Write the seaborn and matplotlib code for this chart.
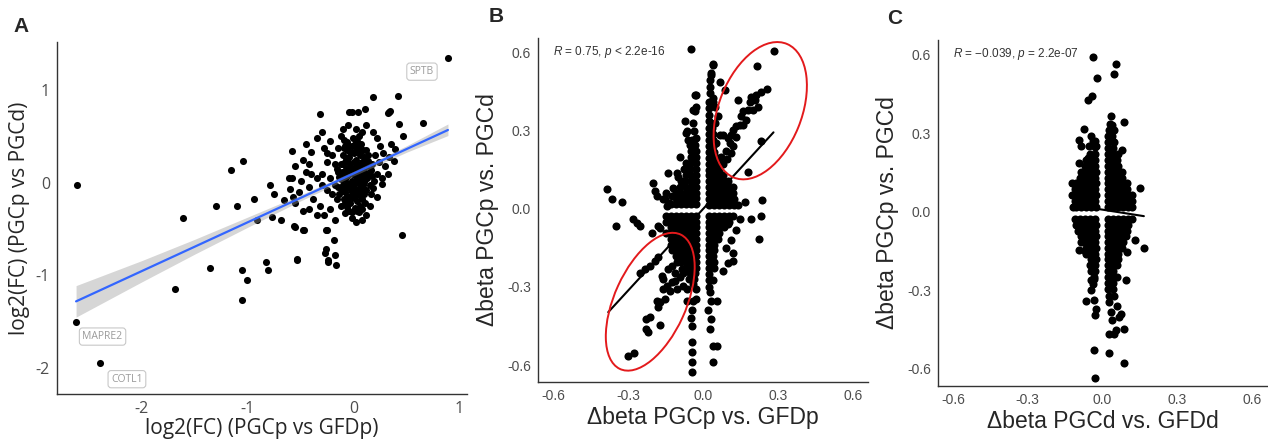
import matplotlib
matplotlib.use('Agg')
import pandas as pd
import matplotlib.pyplot as plt
import seaborn as sns
from matplotlib.patches import Ellipse

# ---------------- panel A : log2 fold changes ----------------
a_far = [(0.89, 1.35), (-2.61, -0.02), (-2.62, -1.50), (-2.39, -1.95), (-1.69, -1.15),
         (-1.61, -0.38), (-1.30, -0.25), (-1.16, 0.14), (-1.04, 0.23), (-1.10, -0.25),
         (-0.94, -0.18), (-0.91, -0.40), (-1.36, -0.92), (-1.05, -0.94), (-1.01, -1.05),
         (-1.05, -1.27), (-0.83, -0.86), (-0.81, -0.94), (-0.79, -0.02), (-0.75, -0.12),
         (-0.77, -0.37), (-0.69, -0.40), (-0.53, -0.82), (-0.56, -0.47), (-0.48, -0.51),
         (-0.58, 0.34), (-0.61, 0.05), (-0.60, -0.07), (-0.66, -0.19), (-0.26, -0.71),
         (-0.24, -0.83), (-0.18, -0.78), (-0.17, -0.89), (-0.19, -0.62), (-0.26, -0.51),
         (0.46, -0.56), (0.65, 0.65), (0.42, 0.94), (0.18, 0.93), (0.33, 0.76),
         (0.43, 0.64), (0.47, 0.51), (0.11, 0.80), (-0.04, 0.76), (0.04, 0.76),
         (0.27, -0.01), (0.38, 0.24), (0.39, 0.37), (-0.32, 0.74), (-0.47, -0.51),
         (-0.25, -0.51), (-0.27, -0.76), (-0.24, -0.85), (-0.53, -0.83), (-0.55, -0.48),
         (-0.57, -0.15), (0.17, 0.07), (0.32, 0.75), (0.34, 0.77), (-0.02, 0.76)]
a_halo = [(-0.45, 0.42), (-0.40, 0.33), (-0.35, 0.48), (-0.30, 0.55), (-0.28, 0.38),
          (-0.22, 0.45), (-0.20, 0.30), (-0.25, 0.22), (-0.18, 0.20), (-0.15, 0.38),
          (-0.12, 0.50), (-0.10, 0.58), (-0.05, 0.62), (0.02, 0.58), (0.08, 0.55),
          (0.12, 0.62), (0.18, 0.55), (0.22, 0.48), (0.25, 0.40), (0.28, 0.32),
          (0.20, 0.30), (0.24, 0.22), (0.30, 0.18), (0.33, 0.28), (0.35, 0.42),
          (0.22, 0.10), (0.18, -0.06), (0.22, -0.15), (0.15, -0.25), (0.12, -0.35),
          (0.08, -0.40), (0.02, -0.42), (-0.02, -0.38), (-0.08, -0.33), (-0.12, -0.25),
          (-0.16, -0.18), (-0.20, -0.12), (-0.25, -0.08), (-0.30, -0.02), (-0.35, 0.05),
          (-0.40, 0.10), (-0.45, 0.12), (-0.50, 0.02), (-0.42, -0.05), (-0.38, -0.18),
          (-0.32, -0.25), (-0.28, -0.35), (-0.22, -0.28), (-0.18, -0.40), (-0.35, -0.35),
          (-0.42, -0.28), (-0.48, -0.30), (-0.52, -0.10), (-0.55, -0.22), (-0.58, 0.05),
          (-0.55, 0.18), (-0.48, 0.25), (-0.42, 0.20), (-0.30, 0.10), (-0.22, 0.05),
          (-0.18, -0.02), (0.27, 0.05), (0.32, 0.10), (0.12, 0.35), (-0.08, 0.40),
          (0.05, -0.32), (-0.15, 0.12), (-0.25, 0.32)]
a_core = [(-0.10, 0.30), (-0.08, 0.22), (-0.06, 0.35), (-0.04, 0.28), (-0.02, 0.40),
          (0.00, 0.32), (0.02, 0.25), (0.04, 0.38), (0.06, 0.30), (0.08, 0.22),
          (0.10, 0.28), (0.12, 0.18), (-0.11, 0.12), (-0.09, 0.05), (-0.07, 0.15),
          (-0.05, 0.08), (-0.03, 0.18), (-0.01, 0.10), (0.01, 0.16), (0.03, 0.06),
          (0.05, 0.14), (0.07, 0.09), (0.09, 0.16), (0.11, 0.04), (0.13, 0.10),
          (-0.10, -0.02), (-0.08, -0.10), (-0.06, 0.00), (-0.04, -0.06), (-0.02, 0.02),
          (0.00, -0.04), (0.02, 0.03), (0.04, -0.08), (0.06, -0.01), (0.08, -0.06),
          (0.10, 0.01), (-0.09, -0.18), (-0.06, -0.14), (-0.03, -0.22), (0.00, -0.16),
          (0.03, -0.20), (0.05, -0.13), (0.08, -0.18), (-0.04, -0.30), (0.01, -0.27),
          (0.06, -0.25), (-0.12, 0.20), (-0.14, 0.06), (-0.15, -0.05), (0.14, 0.24),
          (0.16, 0.14), (0.15, -0.02), (-0.01, 0.48), (0.03, 0.45), (0.07, 0.42),
          (-0.06, 0.44), (-0.05, 0.22), (0.03, 0.20), (-0.02, -0.10), (0.04, 0.10),
          (-0.07, 0.06), (0.07, 0.03), (0.01, -0.08), (-0.04, 0.13), (0.09, 0.10),
          (0.02, 0.35), (-0.09, 0.38), (-0.07, 0.27), (-0.03, 0.33), (0.01, 0.42),
          (0.05, 0.34), (0.09, 0.35), (0.11, 0.22), (-0.12, 0.04), (-0.10, 0.20),
          (-0.06, 0.10), (-0.02, 0.14), (0.02, 0.08), (0.06, 0.18), (0.10, 0.13),
          (0.13, 0.05), (-0.11, -0.08), (-0.07, -0.05), (-0.03, -0.02), (0.01, 0.00),
          (0.05, 0.04), (0.09, -0.02), (0.12, -0.08), (-0.08, -0.22), (-0.05, -0.18),
          (-0.01, -0.13), (0.03, -0.12), (0.07, -0.10), (0.10, -0.12), (-0.06, -0.26),
          (-0.02, -0.32), (0.03, -0.30), (0.08, -0.28), (0.00, 0.22), (-0.04, 0.40),
          (0.05, 0.50), (-0.09, 0.46), (0.14, 0.30), (0.17, 0.20), (0.19, 0.02),
          (-0.16, 0.15), (-0.14, -0.12), (0.16, -0.12), (0.11, -0.22)]
a_fit_x = [-2.62, 0.89]
a_fit_y = [-1.28, 0.57]
a_band_x = [-2.62, -2.0, -1.5, -1.0, -0.5, 0.0, 0.5, 0.89]
a_band_lo = [-1.45, -1.07, -0.77, -0.48, -0.195, 0.075, 0.33, 0.51]
a_band_hi = [-1.11, -0.84, -0.61, -0.37, -0.13, 0.125, 0.40, 0.635]
a_genes = ['SPTB', 'MAPRE2', 'COTL1']
a_gene_pos = [(0.645, 1.20), (-2.37, -1.66), (-2.14, -2.12)]

# ---------------- panel B : delta beta, proximal ----------------
b_scatter = [(-0.049, 0.613), (0.040, 0.555), (0.033, 0.52), (0.027, 0.494), (0.067, 0.488),
             (0.087, 0.456), (0.027, 0.443), (0.04, 0.424), (0.047, 0.392), (0.06, 0.354),
             (0.047, 0.329), (0.067, 0.284), (0.053, 0.252), (-0.029, 0.437), (-0.029, 0.39),
             (-0.033, 0.373), (-0.067, 0.29), (-0.06, 0.265), (-0.053, 0.246), (-0.093, 0.20),
             (-0.033, 0.19), (-0.14, 0.138), (-0.106, 0.138), (-0.20, 0.10), (-0.193, 0.067),
             (-0.186, 0.048), (-0.16, 0.036), (-0.126, 0.048), (-0.153, 0.036), (-0.146, 0.01),
             (-0.386, 0.074), (-0.366, 0.036), (-0.326, 0.027), (-0.349, -0.066), (-0.282, -0.041),
             (-0.266, -0.054), (-0.253, -0.066), (-0.206, -0.092), (-0.18, -0.066), (-0.173, -0.073),
             (-0.073, 0.335), (-0.066, 0.297), (-0.046, 0.265), (-0.04, 0.233), (-0.033, 0.437),
             (-0.04, 0.379), (0.04, 0.551), (0.033, 0.513), (0.027, 0.468), (0.04, 0.411),
             (0.169, 0.025), (0.237, 0.033), (0.233, -0.028), (0.224, -0.117), (0.146, -0.041),
             (0.193, -0.041), (0.12, -0.2), (0.1, -0.06), (0.13, -0.08), (0.11, -0.12),
             (0.09, -0.15), (0.12, -0.17), (0.08, -0.24), (0.1, -0.21), (-0.12, 0.08),
             (-0.1, 0.12), (-0.15, 0.06), (-0.135, 0.02)]
b_circled = [(0.282, 0.605), (0.217, 0.548), (0.257, 0.459), (0.23, 0.446), (0.21, 0.437),
             (0.193, 0.428), (0.186, 0.411), (0.206, 0.418), (0.219, 0.392), (0.2, 0.379),
             (0.18, 0.379), (0.16, 0.373), (0.153, 0.354), (0.173, 0.341), (0.146, 0.322),
             (0.16, 0.322), (0.133, 0.316), (0.12, 0.303), (0.113, 0.284), (0.133, 0.277),
             (0.1, 0.271), (0.08, 0.284), (0.106, 0.252), (0.12, 0.239), (0.113, 0.214),
             (0.14, 0.418), (0.233, 0.258), (0.18, 0.14), (0.09, 0.22), (0.095, 0.19),
             (0.08, 0.17), (0.07, 0.2),
             (-0.299, -0.567), (-0.277, -0.554), (-0.229, -0.461), (-0.219, -0.474),
             (-0.229, -0.423), (-0.213, -0.417), (-0.173, -0.446), (-0.18, -0.378),
             (-0.173, -0.359), (-0.153, -0.347), (-0.186, -0.353), (-0.16, -0.308),
             (-0.146, -0.296), (-0.133, -0.315), (-0.126, -0.283), (-0.113, -0.277),
             (-0.093, -0.264), (-0.08, -0.245), (-0.066, -0.232), (-0.08, -0.296),
             (-0.066, -0.308), (-0.106, -0.308), (-0.253, -0.245), (-0.233, -0.232),
             (-0.213, -0.219), (-0.193, -0.2), (-0.18, -0.187), (-0.16, -0.27),
             (-0.166, -0.257), (-0.14, -0.232), (-0.126, -0.219), (-0.106, -0.206),
             (-0.093, -0.194), (-0.086, -0.232), (-0.113, -0.245)]
b_tails = [(-0.046, -0.449), (-0.046, -0.512), (-0.046, -0.55), (-0.046, -0.589), (-0.046, -0.627),
           (-0.04, -0.353), (-0.066, -0.353), (-0.046, -0.39), (-0.05, -0.42), (-0.027, -0.308),
           (-0.027, -0.346), (0.04, -0.525), (0.056, -0.525), (0.04, -0.589), (0.033, -0.353),
           (0.033, -0.423), (0.056, -0.353), (0.027, -0.32), (0.027, -0.46), (0.02, -0.39)]
# dense core, one row per y level: (y, [x, ...])
b_core_ul = [(0.018, [-0.03, -0.05, -0.07, -0.09, -0.11, -0.13]),
             (0.04, [-0.028, -0.048, -0.068, -0.088, -0.108]),
             (0.062, [-0.03, -0.05, -0.07, -0.09, -0.11]),
             (0.085, [-0.029, -0.049, -0.07, -0.092]),
             (0.108, [-0.03, -0.05, -0.072, -0.09]),
             (0.13, [-0.03, -0.05, -0.07]),
             (0.152, [-0.03, -0.052, -0.075]),
             (0.175, [-0.03, -0.05, -0.068]),
             (0.198, [-0.03, -0.05]),
             (0.22, [-0.03, -0.048]),
             (0.245, [-0.032]), (0.27, [-0.03]), (0.30, [-0.035]), (0.33, [-0.04])]
b_core_ur = [(0.015, [0.022, 0.042, 0.062, 0.082, 0.102, 0.122, 0.14]),
             (0.037, [0.024, 0.044, 0.064, 0.084, 0.104, 0.125]),
             (0.06, [0.022, 0.042, 0.062, 0.082, 0.102, 0.12]),
             (0.082, [0.023, 0.043, 0.063, 0.083, 0.1, 0.118]),
             (0.105, [0.022, 0.042, 0.062, 0.082, 0.1]),
             (0.128, [0.022, 0.042, 0.062, 0.08]),
             (0.15, [0.022, 0.042, 0.062]),
             (0.172, [0.022, 0.042, 0.06]),
             (0.195, [0.022, 0.042, 0.058]),
             (0.218, [0.022, 0.042]), (0.24, [0.022, 0.04]), (0.262, [0.022, 0.04]),
             (0.285, [0.022, 0.038]), (0.31, [0.022, 0.035]), (0.335, [0.022]),
             (0.36, [0.024]), (0.385, [0.022]), (0.41, [0.022])]
b_core_ll = [(-0.028, [-0.028, -0.048, -0.068, -0.088, -0.108, -0.128, -0.148]),
             (-0.05, [-0.028, -0.048, -0.068, -0.088, -0.108, -0.128, -0.15]),
             (-0.072, [-0.03, -0.05, -0.07, -0.09, -0.11, -0.13]),
             (-0.094, [-0.028, -0.048, -0.068, -0.088, -0.108, -0.128, -0.15]),
             (-0.116, [-0.03, -0.05, -0.07, -0.09, -0.11, -0.13]),
             (-0.138, [-0.028, -0.048, -0.068, -0.088, -0.108, -0.13]),
             (-0.16, [-0.03, -0.05, -0.07, -0.09, -0.11, -0.125]),
             (-0.182, [-0.028, -0.048, -0.068, -0.088, -0.108]),
             (-0.204, [-0.03, -0.05, -0.07, -0.09]),
             (-0.226, [-0.03, -0.05, -0.07]),
             (-0.248, [-0.032, -0.052]), (-0.27, [-0.035, -0.055]), (-0.29, [-0.04])]
b_core_lr = [(-0.028, [0.022, 0.042, 0.062, 0.082, 0.102, 0.12]),
             (-0.05, [0.022, 0.042, 0.062, 0.082, 0.102]),
             (-0.072, [0.022, 0.042, 0.062, 0.085]),
             (-0.094, [0.024, 0.045, 0.065]),
             (-0.116, [0.022, 0.042, 0.06]),
             (-0.138, [0.022, 0.044]), (-0.16, [0.024, 0.045]), (-0.182, [0.022, 0.04]),
             (-0.204, [0.025, 0.045]), (-0.226, [0.022, 0.042]), (-0.25, [0.025]),
             (-0.275, [0.022, 0.04]), (-0.30, [0.025])]
b_fit_x = [-0.379, 0.282]
b_fit_y = [-0.397, 0.293]
b_stat = r'$R$ = 0.75, $p$ < 2.2e-16'
# red ellipses: centre, width, height (data units), angle (deg)
b_ellipses = [((0.229, 0.376), 0.555, 0.33, 67), ((-0.211, -0.357), 0.57, 0.285, 64.5)]

# ---------------- panel C : delta beta, distal ----------------
c_scatter = [(-0.04, 0.59), (-0.024, 0.511), (0.053, 0.565), (0.047, 0.524), (-0.06, 0.428),
             (-0.042, 0.44), (0.033, 0.364), (0.04, 0.332), (0.033, 0.30), (0.04, 0.275),
             (-0.073, 0.316), (-0.093, 0.275), (-0.046, 0.287), (-0.04, 0.268), (-0.026, 0.249),
             (-0.053, 0.249), (0.086, 0.341), (-0.086, 0.249), (-0.093, 0.185), (-0.06, 0.204),
             (0.08, 0.236), (-0.122, 0.111), (0.149, 0.089), (0.13, -0.109), (0.166, -0.14),
             (0.1, -0.153), (0.093, -0.262), (-0.093, -0.147), (-0.069, -0.149),
             (-0.046, -0.262), (-0.033, -0.255), (-0.066, -0.342), (-0.033, -0.336),
             (-0.026, -0.37), (-0.029, -0.396), (-0.033, -0.526), (-0.029, -0.635),
             (0.027, -0.54), (0.086, -0.579), (0.027, -0.345), (0.033, -0.383), (0.04, -0.415),
             (0.056, -0.453), (0.047, -0.466), (0.027, -0.466), (0.067, -0.402), (0.06, -0.358),
             (0.073, -0.39), (0.086, -0.447)]
c_core_ul = [(0.018, [-0.028, -0.048, -0.068, -0.088, -0.108, -0.12]),
             (0.04, [-0.03, -0.05, -0.07, -0.09, -0.11]),
             (0.062, [-0.028, -0.048, -0.068, -0.088, -0.108, -0.122]),
             (0.085, [-0.03, -0.05, -0.07, -0.09, -0.11]),
             (0.108, [-0.028, -0.048, -0.068, -0.088, -0.105]),
             (0.13, [-0.03, -0.05, -0.07, -0.09]),
             (0.152, [-0.028, -0.048, -0.068, -0.085]),
             (0.175, [-0.03, -0.05, -0.07]),
             (0.198, [-0.03, -0.05, -0.068]),
             (0.22, [-0.03, -0.05]), (0.245, [-0.032]), (0.27, [-0.03])]
c_core_ur = [(0.018, [0.022, 0.042, 0.062, 0.082, 0.102, 0.12]),
             (0.04, [0.024, 0.044, 0.064, 0.084, 0.104, 0.118]),
             (0.062, [0.022, 0.042, 0.062, 0.082, 0.102, 0.12]),
             (0.085, [0.023, 0.043, 0.063, 0.083, 0.1]),
             (0.108, [0.022, 0.042, 0.062, 0.082, 0.1]),
             (0.13, [0.022, 0.042, 0.062, 0.08]),
             (0.152, [0.024, 0.044, 0.064, 0.08]),
             (0.175, [0.022, 0.042, 0.062]),
             (0.198, [0.022, 0.042, 0.06]),
             (0.22, [0.024, 0.044, 0.062]),
             (0.242, [0.022, 0.042]), (0.265, [0.024, 0.045]), (0.288, [0.022, 0.04]),
             (0.31, [0.025, 0.045]), (0.335, [0.03])]
c_core_ll = [(-0.028, [-0.03, -0.05, -0.07, -0.09, -0.11]),
             (-0.05, [-0.028, -0.048, -0.068, -0.088, -0.105]),
             (-0.072, [-0.03, -0.05, -0.07, -0.09, -0.10]),
             (-0.094, [-0.028, -0.048, -0.068, -0.088]),
             (-0.116, [-0.03, -0.05, -0.07, -0.085]),
             (-0.138, [-0.028, -0.048, -0.068]),
             (-0.16, [-0.03, -0.05, -0.065]),
             (-0.182, [-0.028, -0.048]), (-0.204, [-0.03, -0.05]), (-0.226, [-0.03, -0.048]),
             (-0.25, [-0.035]), (-0.275, [-0.04]), (-0.30, [-0.045])]
c_core_lr = [(-0.028, [0.022, 0.042, 0.062, 0.082, 0.102, 0.12]),
             (-0.05, [0.024, 0.044, 0.064, 0.084, 0.104]),
             (-0.072, [0.022, 0.042, 0.062, 0.082, 0.1]),
             (-0.094, [0.022, 0.042, 0.062, 0.08, 0.095]),
             (-0.116, [0.024, 0.044, 0.064, 0.082]),
             (-0.138, [0.022, 0.042, 0.062, 0.078]),
             (-0.16, [0.022, 0.042, 0.062]), (-0.182, [0.024, 0.044, 0.062]),
             (-0.204, [0.022, 0.042, 0.06]), (-0.226, [0.024, 0.044]),
             (-0.25, [0.022, 0.042, 0.06]), (-0.272, [0.024, 0.044]),
             (-0.295, [0.022, 0.042]), (-0.32, [0.028, 0.045])]
c_fit_x = [-0.122, 0.166]
c_fit_y = [0.026, -0.017]
c_stat = '$R$ = \u22120.039, $p$ = 2.2e-07'

beta_ticks = [-0.6, -0.3, 0.0, 0.3, 0.6]
beta_ticklabels = ['-0.6', '-0.3', '0.0', '0.3', '0.6']

W, H = 1268, 441


def rows_to_points(rows):
    '''expand (y, [x...]) rows into a list of (x, y) points'''
    return [(x, y) for y, xs in rows for x in xs]


def points_frame(*groups):
    '''stack several lists of (x, y) points into one dataframe'''
    pts = [p for g in groups for p in g]
    return pd.DataFrame(pts, columns=['x', 'y'])


def px_axes(fig, left, top, right, bottom):
    '''add an axes given its pixel box in the 1268x441 canvas'''
    return fig.add_axes([left / W, 1 - bottom / H, (right - left) / W, (bottom - top) / H])


def style_axes(ax, font, tick_size):
    sns.despine(ax=ax)
    for s in ['left', 'bottom']:
        ax.spines[s].set_linewidth(1.0)
        ax.spines[s].set_color('#333333')
    ax.tick_params(length=3, width=0.8, color='#333333', labelcolor='#4D4D4D',
                   labelsize=tick_size, pad=2)
    for lab in ax.get_xticklabels() + ax.get_yticklabels():
        lab.set_fontfamily(font)


sns.set_style('white')
plt.rcParams['font.family'] = ['Liberation Sans', 'DejaVu Sans']
plt.rcParams['axes.unicode_minus'] = False
plt.rcParams['mathtext.fontset'] = 'custom'
plt.rcParams['mathtext.rm'] = 'Liberation Sans'
plt.rcParams['mathtext.it'] = 'Liberation Sans:italic'

fig = plt.figure(figsize=(W / 100, H / 100), dpi=100)

# ---- A ----
ax_a = px_axes(fig, 57, 42, 467, 394)
df_a = points_frame(a_far, a_halo, a_core)
sns.scatterplot(data=df_a, x='x', y='y', ax=ax_a, color='black', s=26, linewidth=0, zorder=2)
ax_a.fill_between(a_band_x, a_band_lo, a_band_hi, color='#999999', alpha=0.4, lw=0, zorder=3)
sns.lineplot(x=a_fit_x, y=a_fit_y, ax=ax_a, color='#3366FF', lw=1.6, zorder=4)
for g, (gx, gy) in zip(a_genes, a_gene_pos):
    ax_a.text(gx, gy, g, fontsize=7.5, color='#9A9A9A', family='Open Sans', ha='center', va='center',
              bbox=dict(boxstyle='round,pad=0.3', fc='white', ec='#C8C8C8', lw=0.8), zorder=5)
ax_a.set_xlim(-2.80, 1.07)
ax_a.set_ylim(-2.28, 1.52)
ax_a.set_xticks([-2, -1, 0, 1])
ax_a.set_yticks([-2, -1, 0, 1])
ax_a.set_xlabel('log2(FC) (PGCp vs GFDp)', fontsize=15, family='Open Sans', labelpad=1)
ax_a.set_ylabel('log2(FC) (PGCp vs PGCd)', fontsize=15, family='Open Sans', labelpad=4)
style_axes(ax_a, 'Open Sans', 11.5)

# ---- B ----
ax_b = px_axes(fig, 538, 38, 868, 382)
df_b = points_frame(b_scatter, b_circled, b_tails, rows_to_points(b_core_ul),
                    rows_to_points(b_core_ur), rows_to_points(b_core_ll), rows_to_points(b_core_lr))
sns.scatterplot(data=df_b, x='x', y='y', ax=ax_b, color='black', s=34, linewidth=0, zorder=2)
sns.lineplot(x=b_fit_x, y=b_fit_y, ax=ax_b, color='black', lw=1.5, zorder=3)
for (cx, cy), w, h, ang in b_ellipses:
    ax_b.add_patch(Ellipse((cx, cy), w, h, angle=ang, fill=False, ec='#E31A1C', lw=1.4, zorder=4))
ax_b.text(-0.60, 0.60, b_stat, fontsize=8.5, color='#333333', va='center')

# ---- C ----
ax_c = px_axes(fig, 938, 40, 1267, 386)
df_c = points_frame(c_scatter, rows_to_points(c_core_ul), rows_to_points(c_core_ur),
                    rows_to_points(c_core_ll), rows_to_points(c_core_lr))
sns.scatterplot(data=df_c, x='x', y='y', ax=ax_c, color='black', s=34, linewidth=0, zorder=2)
sns.lineplot(x=c_fit_x, y=c_fit_y, ax=ax_c, color='black', lw=1.5, zorder=3)
ax_c.text(-0.60, 0.60, c_stat, fontsize=8.5, color='#333333', va='center')

for ax, xl in [(ax_b, '\u0394beta PGCp vs. GFDp'), (ax_c, '\u0394beta PGCd vs. GFDd')]:
    ax.set_xlim(-0.66, 0.66)
    ax.set_ylim(-0.665, 0.655)
    ax.set_xticks(beta_ticks, beta_ticklabels)
    ax.set_yticks(beta_ticks, beta_ticklabels)
    ax.set_xlabel(xl, fontsize=16.5, labelpad=2)
    ax.set_ylabel('\u0394beta PGCp vs. PGCd', fontsize=16.5, labelpad=6)
    style_axes(ax, 'Liberation Sans', 10)

for lab, x, y in [('A', 13, 27), ('B', 489, 17), ('C', 887, 18)]:
    fig.text(x / W, 1 - y / H, lab, fontsize=15, weight='bold', va='center', ha='left')

fig.savefig('out.png', dpi=100)
